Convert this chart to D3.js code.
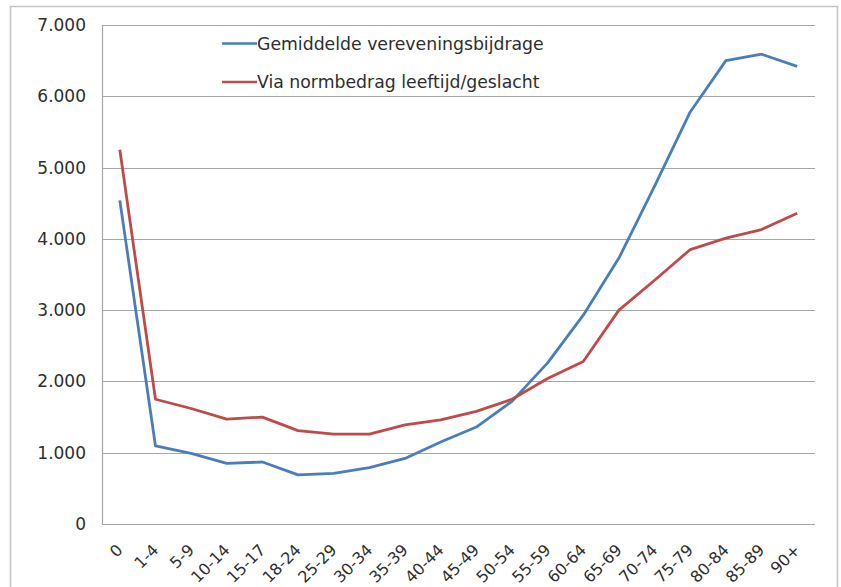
<!DOCTYPE html>
<html>
<head>
<meta charset="utf-8">
<script src="https://cdn.jsdelivr.net/npm/d3@7"></script>
<style>
  body { margin: 0; background: #fff; }
  svg text { font-family: "DejaVu Sans", Verdana, sans-serif; fill: #2e2e2e; }
</style>
</head>
<body>
<div class="chart"></div>
<script>
var categories = ["0", "1-4", "5-9", "10-14", "15-17", "18-24", "25-29", "30-34", "35-39", "40-44",
  "45-49", "50-54", "55-59", "60-64", "65-69", "70-74", "75-79", "80-84", "85-89", "90+"];
var gemiddelde = [4540, 1095, 990, 850, 870, 690, 710, 790, 920, 1150,
  1360, 1720, 2260, 2930, 3730, 4740, 5780, 6500, 6590, 6420];
var normbedrag = [5250, 1750, 1620, 1470, 1500, 1310, 1260, 1260, 1390, 1460,
  1580, 1750, 2040, 2280, 3000, 3420, 3850, 4010, 4130, 4360];
var yTicks = [0, 1000, 2000, 3000, 4000, 5000, 6000, 7000];
var seriesNames = ["Gemiddelde vereveningsbijdrage", "Via normbedrag leeftijd/geslacht"];
var seriesColors = ["#4a7ebb", "#be4b48"];

var width = 841;
var height = 587;
var margin = {left: 102, right: 26, top: 25, bottom: 63};

var svg = d3.select(".chart")
  .append("svg")
  .attr("width", width)
  .attr("height", height);

// outer chart frame
svg.append("rect")
  .attr("x", 10.5).attr("y", 6.5)
  .attr("width", 827).attr("height", 600)
  .attr("fill", "none")
  .attr("stroke", "#c4c4c4")
  .attr("stroke-width", 1.5);

var x = d3.scalePoint()
  .domain(categories)
  .range([margin.left, width - margin.right])
  .padding(0.5);

var y = d3.scaleLinear()
  .domain([0, 7000])
  .range([height - margin.bottom, margin.top]);

var fmt = function(d) { return d3.format(",")(d).replace(/,/g, "."); };

// gridlines
svg.append("g")
  .selectAll("line")
  .data(yTicks)
  .enter()
  .append("line")
  .attr("x1", margin.left).attr("x2", width - margin.right)
  .attr("y1", function(d) { return Math.round(y(d)) + 0.5; })
  .attr("y2", function(d) { return Math.round(y(d)) + 0.5; })
  .attr("stroke", "#a6a6a6")
  .attr("stroke-width", 1.2);

// axis line
svg.append("line")
  .attr("x1", margin.left + 0.5).attr("x2", margin.left + 0.5)
  .attr("y1", margin.top).attr("y2", height - margin.bottom)
  .attr("stroke", "#a6a6a6").attr("stroke-width", 1.2);

// y labels
svg.append("g")
  .selectAll("text")
  .data(yTicks)
  .enter()
  .append("text")
  .attr("x", 86)
  .attr("y", function(d) { return y(d); })
  .attr("dy", "0.35em")
  .attr("text-anchor", "end")
  .style("font-size", "17px")
  .text(fmt);

// x labels, rotated
svg.append("g")
  .selectAll("text")
  .data(categories)
  .enter()
  .append("text")
  .attr("transform", function(d) { return "translate(" + x(d) + "," + 547 + ") rotate(-45)"; })
  .attr("text-anchor", "end")
  .attr("dy", "0.35em")
  .style("font-size", "16px")
  .text(function(d) { return d; });

// lines
var line = d3.line()
  .x(function(d, i) { return x(categories[i]); })
  .y(function(d) { return y(d); });

[gemiddelde, normbedrag].forEach(function(vals, i) {
  svg.append("path")
    .datum(vals)
    .attr("d", line)
    .attr("fill", "none")
    .attr("stroke", seriesColors[i])
    .attr("stroke-width", 2.8)
    .attr("stroke-linejoin", "round");
});

// legend
var legend = svg.append("g")
  .selectAll("g")
  .data(seriesNames)
  .enter()
  .append("g")
  .attr("transform", function(d, i) { return "translate(222," + (43.5 + i * 38.5) + ")"; });

legend.append("line")
  .attr("x1", 0).attr("x2", 35)
  .attr("stroke", function(d, i) { return seriesColors[i]; })
  .attr("stroke-width", 2.5);

legend.append("text")
  .attr("x", 35)
  .attr("dy", "0.35em")
  .style("font-size", "17.3px")
  .text(function(d) { return d; });
</script>
</body>
</html>
